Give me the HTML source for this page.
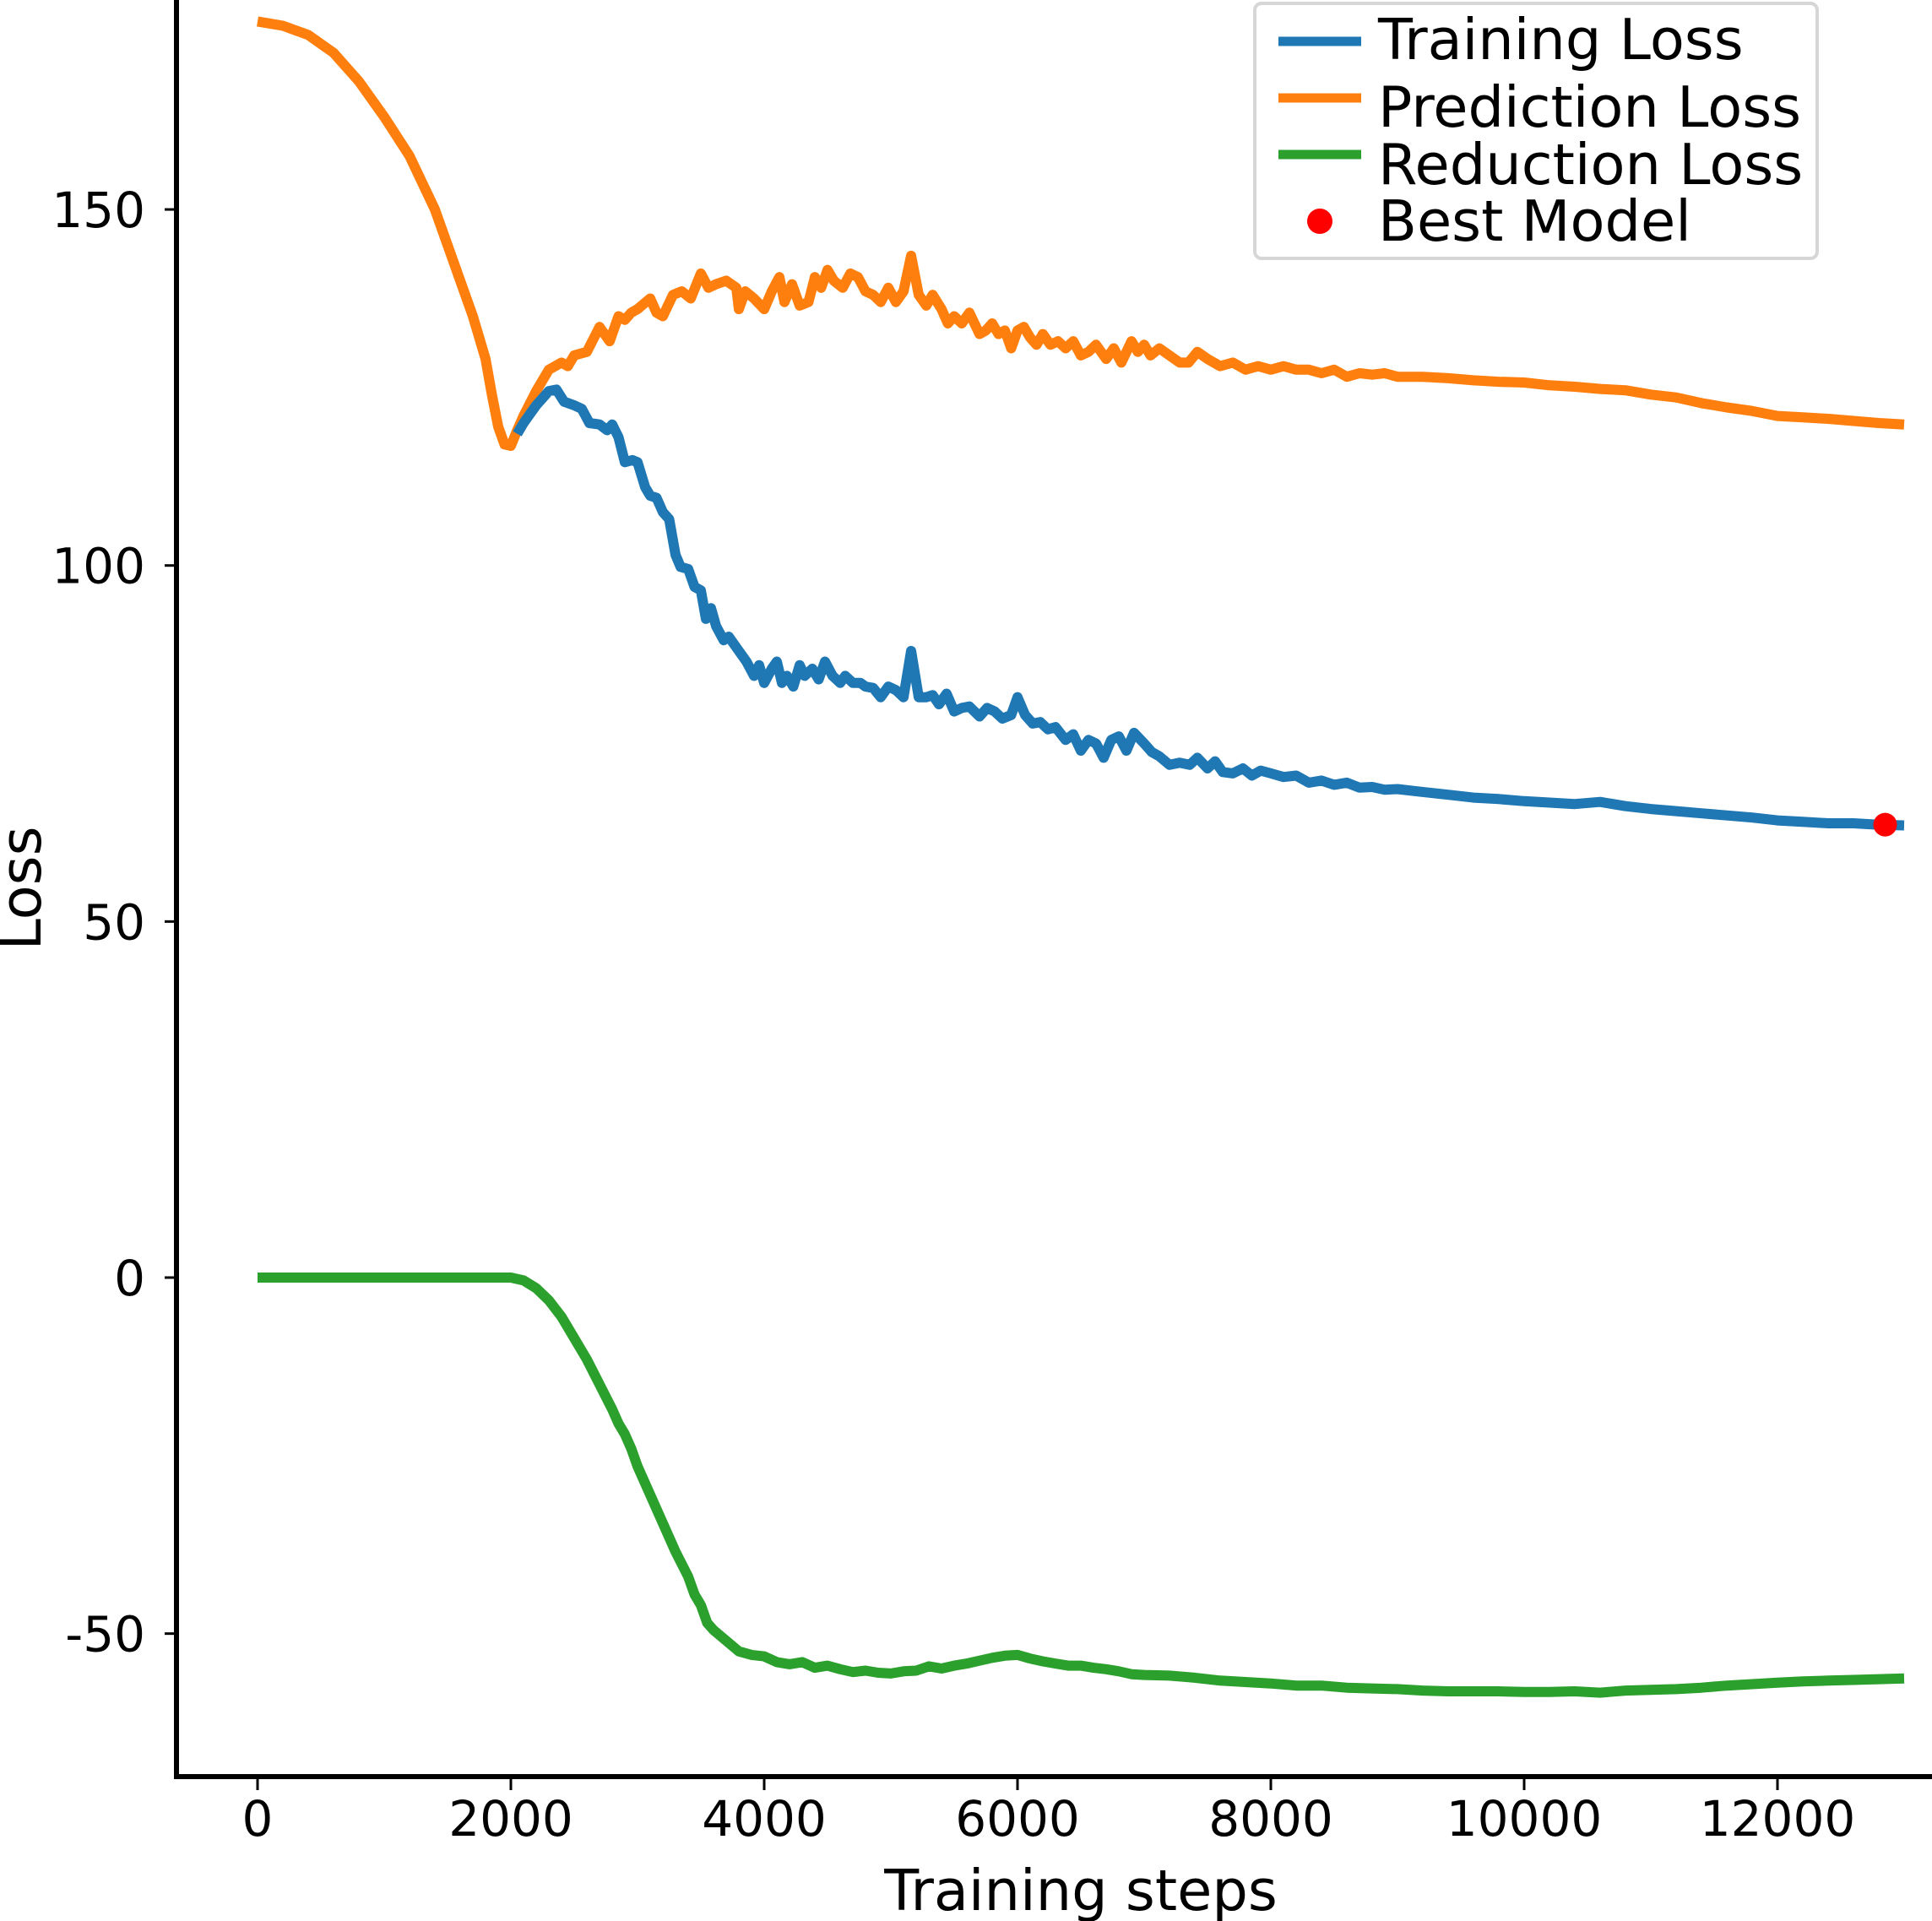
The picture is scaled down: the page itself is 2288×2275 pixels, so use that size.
<!DOCTYPE html>
<html><head><meta charset="utf-8"><style>
html,body{margin:0;padding:0;background:#fff;}
svg{display:block;font-family:"DejaVu Sans","Liberation Sans",sans-serif;}
</style></head><body>
<svg id="chart" width="2288" height="2275" viewBox="0 0 2288 2275" xmlns="http://www.w3.org/2000/svg">
<g id="plot"></g>
<g id="axes"></g>
<text x="1280" y="2262" font-size="67" text-anchor="middle">Training steps</text>
<text transform="translate(48,1052) rotate(-90)" font-size="67" text-anchor="middle">Loss</text>
<g>
<rect x="1486" y="4" width="666" height="302" rx="8" fill="#fff" fill-opacity="0.8" stroke="#d6d6d6" stroke-width="4"/>
<g><line x1="1514" y1="49" x2="1612" y2="49" stroke="#1f77b4" stroke-width="11"/><text x="1632" y="70" font-size="67">Training Loss</text></g>
<g><line x1="1514" y1="116" x2="1612" y2="116" stroke="#ff7f0e" stroke-width="11"/><text x="1632" y="150" font-size="67">Prediction Loss</text></g>
<g><line x1="1514" y1="183" x2="1612" y2="183" stroke="#2ca02c" stroke-width="11"/><text x="1632" y="218" font-size="67">Reduction Loss</text></g>
<g><circle cx="1563" cy="262" r="15" fill="#ff0000"/><text x="1632" y="285" font-size="67">Best Model</text></g>
</g>
</svg>
<script>
const predSteps=[0,200,400,600,800,1000,1200,1400,1600,1700,1800,1850,1900,1950,2000,2050,2100,2200,2300,2400,2450,2500,2600,2700,2780,2850,2900,2950,3000,3100,3150,3200,3280,3350,3420,3500,3560,3620,3700,3780,3800,3850,3920,4000,4060,4120,4160,4220,4280,4350,4400,4450,4500,4550,4620,4680,4740,4800,4860,4920,4980,5040,5100,5160,5220,5280,5330,5400,5450,5500,5560,5620,5700,5750,5800,5850,5900,5950,6000,6050,6100,6150,6200,6260,6320,6380,6440,6500,6560,6620,6700,6760,6820,6900,6950,7000,7050,7120,7200,7280,7350,7420,7500,7600,7700,7800,7900,8000,8100,8200,8300,8400,8500,8600,8700,8800,8900,9000,9200,9400,9600,9800,10000,10200,10400,10600,10800,11000,11200,11400,11600,11800,12000,12200,12400,12600,12800,13000];
const predLoss=[176.4,175.8,174.5,172,168,163,157.5,150,140,135,129,124,119.5,117,116.8,119,121,124.5,127.5,128.5,128,129.5,130,133.5,131.5,135,134.5,135.5,136,137.5,135.5,135,138,138.5,137.5,141,139,139.5,140,139,136,138.5,137.5,136,138.5,140.5,137,139.5,136.5,137,140.5,139,141.5,140,139,141,140.5,138.5,138,137,139,137,138.5,143.5,138,136.5,138,136,134,135,134,135.5,132.5,133,134,132.5,133,130.5,133,133.5,132,131,132.5,131,131.5,130.5,131.5,129.5,130,131,129,130.5,128.5,131.5,130,131,129.5,130.5,129.5,128.5,128.5,130,129,128,128.5,127.5,128,127.5,128,127.5,127.5,127,127.5,126.5,127,126.8,127,126.5,126.5,126.3,126,125.8,125.7,125.3,125.1,124.8,124.6,124,123.6,122.8,122.2,121.7,121,120.8,120.6,120.3,120,119.8];
const trainSteps=[2050,2100,2200,2300,2360,2420,2500,2560,2620,2700,2760,2800,2850,2900,2960,3000,3060,3100,3150,3200,3250,3300,3340,3400,3450,3500,3540,3580,3620,3680,3720,3780,3820,3860,3920,3960,4000,4060,4100,4140,4180,4230,4280,4320,4380,4430,4480,4540,4600,4640,4700,4760,4800,4860,4920,4980,5040,5100,5160,5220,5280,5330,5380,5440,5500,5560,5620,5700,5760,5820,5880,5950,6000,6060,6120,6180,6240,6300,6380,6440,6500,6560,6620,6680,6740,6800,6860,6920,7000,7060,7120,7200,7280,7360,7420,7500,7560,7620,7700,7780,7850,7920,8000,8100,8200,8300,8400,8500,8600,8700,8800,8900,9000,9200,9400,9600,9800,10000,10200,10400,10600,10800,11000,11200,11400,11600,11800,12000,12200,12400,12600,12800,13000];
const trainLoss=[118.5,120,122.5,124.5,124.7,123,122.5,122,120,119.8,119,119.8,118,114.5,114.8,114.5,111,109.8,109.5,107.5,106.5,101.5,99.8,99.5,97,96.5,92.5,94,91.5,89.5,90,88.5,87.5,86.5,84.5,86,83.5,85.5,86.5,83.5,84.5,83,86,84.5,85.5,84,86.5,84.5,83.5,84.5,83.5,83.5,83,82.8,81.5,83,82.5,81.5,88,81.5,81.5,81.8,80.5,82,79.5,80,80.2,78.8,80,79.5,78.5,79,81.5,79,77.8,78,77,77.3,75.5,76.3,74,75.5,75,73,75.5,76,74,76.5,75,73.8,73.2,72,72.3,72,73,71.5,72.5,71,70.8,71.5,70.5,71.2,70.8,70.3,70.5,69.5,69.8,69.2,69.5,68.8,68.9,68.5,68.6,68.2,67.8,67.4,67.2,66.9,66.7,66.5,66.8,66.2,65.8,65.5,65.2,64.9,64.6,64.2,64,63.8,63.8,63.6,63.5];
const redSteps=[0,1900,2000,2100,2200,2300,2400,2500,2600,2700,2800,2850,2900,2950,3000,3100,3200,3300,3400,3450,3500,3550,3600,3700,3800,3900,4000,4100,4200,4300,4400,4500,4600,4700,4800,4900,5000,5100,5200,5300,5400,5500,5600,5700,5800,5900,6000,6100,6200,6300,6400,6500,6600,6700,6800,6900,7000,7200,7400,7600,7800,8000,8200,8400,8600,8800,9000,9200,9400,9600,9800,10000,10200,10400,10600,10800,11000,11200,11400,11600,11800,12000,12200,12400,12600,12800,13000];
const redLoss=[0,0,0,-0.4,-1.5,-3.2,-5.5,-8.5,-11.5,-15,-18.5,-20.5,-22,-24,-26.5,-30.5,-34.5,-38.5,-42,-44.5,-46,-48.5,-49.5,-51,-52.5,-53,-53.2,-54,-54.3,-54,-54.8,-54.5,-55,-55.4,-55.2,-55.5,-55.6,-55.3,-55.2,-54.6,-54.9,-54.5,-54.2,-53.8,-53.4,-53.1,-53,-53.5,-53.9,-54.2,-54.5,-54.5,-54.8,-55,-55.3,-55.7,-55.8,-55.9,-56.2,-56.6,-56.8,-57,-57.3,-57.3,-57.6,-57.7,-57.8,-58,-58.1,-58.1,-58.1,-58.2,-58.2,-58.1,-58.3,-58,-57.9,-57.8,-57.6,-57.3,-57.1,-56.9,-56.7,-56.6,-56.5,-56.4,-56.3];
const bestStep=[12850];
const bestLoss=[63.6];
const xTicks=[0,2000,4000,6000,8000,10000,12000];
const yTicks=[-50,0,50,100,150];

const NS='http://www.w3.org/2000/svg';
const X=v=>305+v*0.15;
const Y=v=>1513-v*8.433;
const plot=document.getElementById('plot');
const axes=document.getElementById('axes');
function mk(tag,attrs,parent){const e=document.createElementNS(NS,tag);for(const k in attrs)e.setAttribute(k,attrs[k]);parent.appendChild(e);return e;}
function line(steps,vals,color,name){
  const d=steps.map((s,i)=>(i?'L':'M')+X(s).toFixed(1)+','+Y(vals[i]).toFixed(1)).join(' ');
  const p=mk('path',{d:d,fill:'none',stroke:color,'stroke-width':12,'stroke-linejoin':'round','stroke-linecap':'butt'},plot);
  
  
}
line(predSteps,predLoss,'#ff7f0e','prediction-loss-line');
line(trainSteps,trainLoss,'#1f77b4','training-loss-line');
line(redSteps,redLoss,'#2ca02c','reduction-loss-line');
bestStep.forEach((s,i)=>{
  const c=mk('circle',{cx:X(s),cy:Y(bestLoss[i]),r:14,fill:'#ff0000'},plot);
  
  
});
const ls=mk('line',{x1:209,y1:0,x2:209,y2:2107,stroke:'#000','stroke-width':6},axes);


const bs=mk('line',{x1:206,y1:2104,x2:2288,y2:2104,stroke:'#000','stroke-width':6},axes);


xTicks.forEach(t=>{
  const tk=mk('line',{x1:X(t),y1:2107,x2:X(t),y2:2120,stroke:'#000','stroke-width':3},axes);
  
  
  const tx=mk('text',{x:X(t),y:2174,'font-size':58,'text-anchor':'middle'},axes);
  tx.textContent=String(t);
  
  
});
yTicks.forEach(t=>{
  const tk=mk('line',{x1:195,y1:Y(t),x2:207,y2:Y(t),stroke:'#000','stroke-width':3},axes);
  
  
  const tx=mk('text',{x:172,y:Y(t)+21,'font-size':58,'text-anchor':'end'},axes);
  tx.textContent=String(t);
  
  
});
</script>
</body></html>
